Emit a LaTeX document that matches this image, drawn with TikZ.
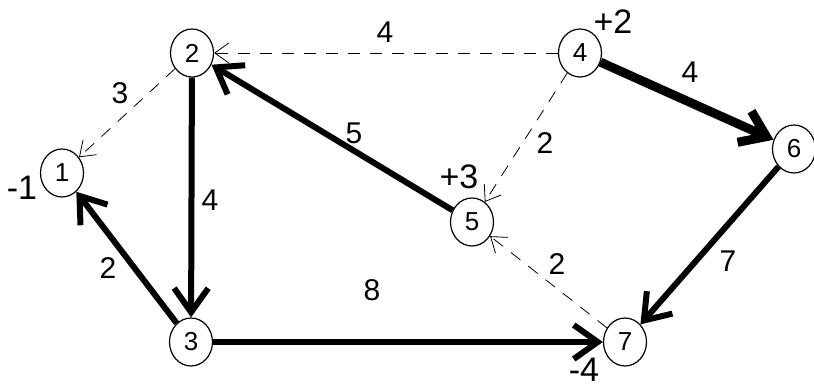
\documentclass[tikz,border=0pt]{standalone}
\usepackage{fontspec}
\setmainfont{Liberation Sans}
\usepackage{tikz}
\usetikzlibrary{arrows.meta,shapes.geometric}

\begin{document}
\begin{tikzpicture}[x=0.5pt,y=-0.5pt,
  vert/.style={ellipse,draw,semithick,minimum width=21.5pt,minimum height=24pt,inner sep=0pt,font=\fontsize{13}{13}\selectfont},
  wt/.style={font=\fontsize{15}{15}\selectfont},
  bal/.style={font=\fontsize{17}{17}\selectfont},
  flow/.style={line width=3pt,-{Straight Barb[length=12pt,width=17pt]}},
  idle/.style={thin,dash pattern=on 6pt off 5pt,-{Straight Barb[length=7pt,width=10pt]}}]
  \useasboundingbox (0,0) rectangle (814,389);

  \node[vert] (n1) at (62,173) {1};
  \node[vert] (n2) at (192,53) {2};
  \node[vert] (n3) at (191,342) {3};
  \node[vert] (n4) at (580,53) {4};
  \node[vert] (n5) at (472,222) {5};
  \node[vert] (n6) at (794,149) {6};
  \node[vert] (n7) at (625,342) {7};

  % supplies and demands
  \node[bal] (b1) at (22,188) {-1};
  \node[bal] (b4) at (613,22) {+2};
  \node[bal] (b5) at (459,177) {+3};
  \node[bal] (b7) at (584,370) {-4};

  % arcs carrying flow
  \draw[flow] (n3) -- (n1);
  \draw[flow] (n2) -- (n3);
  \draw[flow] (n5) -- (n2);
  \draw[flow] (n3) -- (n7);
  \draw[flow,line width=4.5pt] (n4) -- (n6);
  \draw[flow] (n6) -- (n7);

  % arcs without flow
  \draw[idle] (n4) -- (n2);
  \draw[idle] (n2) -- (n1);
  \draw[idle] (n4) -- (n5);
  \draw[idle] (n7) -- (n5);

  % costs
  \node[wt] (c21) at (120,93) {3};
  \node[wt] (c42) at (385,32) {4};
  \node[wt] (c23) at (210,200) {4};
  \node[wt] (c31) at (108,268) {2};
  \node[wt] (c37) at (372,290) {8};
  \node[wt] (c52) at (354,133) {5};
  \node[wt] (c45) at (545,143) {2};
  \node[wt] (c46) at (690,72) {4};
  \node[wt] (c67) at (728,261) {7};
  \node[wt] (c75) at (557,264) {2};
\end{tikzpicture}
\end{document}
